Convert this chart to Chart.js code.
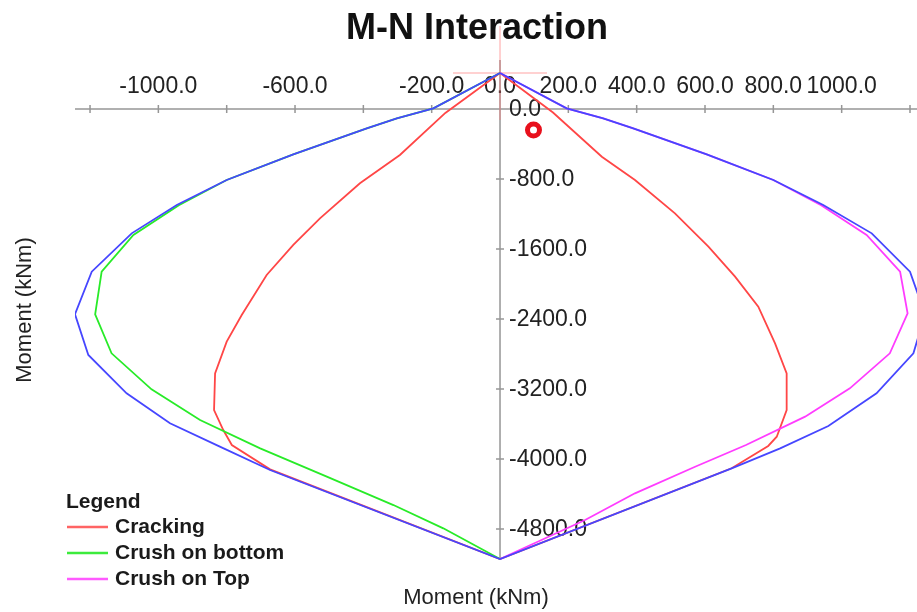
<!DOCTYPE html>
<html>
<head>
<meta charset="utf-8">
<title>M-N Interaction</title>
<script src="https://cdn.jsdelivr.net/npm/chart.js@4.4.0/dist/chart.umd.min.js"></script>
<style>
  body { margin: 0; background: #fff; }
  #myChart { display: block; }
</style>
</head>
<body>
<canvas id="myChart" width="917" height="612"></canvas>
<script>
// values, [x moment, y moment] in kNm
const envelope = [
  [0, 411], [-195, 8], [-302, -106], [-390, -221], [-605, -518], [-800, -811],
  [-946, -1097], [-1078, -1421], [-1195, -1859], [-1244, -2346], [-1205, -2811],
  [-1093, -3249], [-966, -3592], [-820, -3859], [-673, -4126], [0, -5143],
  [678, -4106], [820, -3878], [961, -3623], [1102, -3249], [1210, -2792],
  [1244, -2346], [1200, -1859], [1088, -1421], [946, -1097], [800, -811],
  [605, -518], [390, -221], [302, -106], [195, 8], [0, 411]
];

const cracking = [
  [0, 411], [-160, -45], [-293, -526], [-410, -849], [-527, -1249], [-605, -1554],
  [-683, -1897], [-756, -2354], [-800, -2659], [-834, -3021], [-837, -3440],
  [-810, -3669], [-785, -3840], [-673, -4118], [0, -5143], [678, -4106],
  [785, -3851], [810, -3745], [839, -3440], [839, -3021], [805, -2678],
  [756, -2259], [688, -1916], [610, -1574], [512, -1192], [395, -811],
  [298, -545], [155, -40], [0, 411]
];

const crushBottom = [
  [0, 411], [-195, 8], [-302, -106], [-390, -221], [-605, -518], [-800, -811],
  [-940, -1100], [-1073, -1440], [-1166, -1859], [-1185, -2346], [-1137, -2792],
  [-1020, -3204], [-878, -3554], [-702, -3878], [-507, -4202], [-312, -4526],
  [-166, -4792], [0, -5143]
];

const crushTop = [
  [0, 411], [195, 8], [302, -106], [390, -221], [605, -518], [800, -811],
  [940, -1100], [1073, -1440], [1171, -1859], [1193, -2335], [1141, -2792],
  [1024, -3192], [893, -3516], [720, -3840], [571, -4088], [395, -4392],
  [249, -4697], [0, -5143]
];

const peakMark = [[0, 411]];
const loadPoint = [[98, -240]];

const xTickValues = [-1200, -1000, -800, -600, -400, -200, 0, 200, 400, 600, 800, 1000, 1200];
const xTickLabels = ['', '-1000.0', '', '-600.0', '', '-200.0', '0.0', '200.0', '400.0', '600.0', '800.0', '1000.0', ''];
const yTickValues = [0, -800, -1600, -2400, -3200, -4000, -4800];
const yTickLabels = ['0.0', '-800.0', '-1600.0', '-2400.0', '-3200.0', '-4000.0', '-4800.0'];

const legendNames = ['Cracking', 'Crush on bottom', 'Crush on Top'];
const legendColors = ['rgb(255,100,100)', 'rgb(60,235,60)', 'rgb(255,90,255)'];

const FONT = '"Liberation Sans", Arial, sans-serif';

const toXY = (arr) => arr.map(p => ({x: p[0], y: p[1]}));

const line = (data, color, order) => ({
  data: toXY(data),
  showLine: true,
  borderColor: color,
  backgroundColor: color,
  borderWidth: 1.8,
  pointRadius: 0,
  tension: 0,
  order: order
});

// axes crossing at the origin, titles and legend
const decorations = {
  id: 'decorations',
  beforeDatasetsDraw(chart) {
    const {ctx, chartArea, scales: {x, y}} = chart;
    const x0 = x.getPixelForValue(0);
    const y0 = y.getPixelForValue(0);
    ctx.save();

    ctx.strokeStyle = 'rgb(150,150,150)';
    ctx.lineWidth = 1.5;
    ctx.beginPath();
    ctx.moveTo(chartArea.left, y0);
    ctx.lineTo(chartArea.right, y0);
    ctx.moveTo(x0, chartArea.top);
    ctx.lineTo(x0, chartArea.bottom);
    xTickValues.forEach(v => {
      const px = x.getPixelForValue(v);
      ctx.moveTo(px, y0 - 4);
      ctx.lineTo(px, y0 + 4);
    });
    yTickValues.forEach(v => {
      const py = y.getPixelForValue(v);
      ctx.moveTo(x0 - 4, py);
      ctx.lineTo(x0 + 4, py);
    });
    ctx.stroke();

    ctx.fillStyle = '#222';
    ctx.font = '23px ' + FONT;
    ctx.textAlign = 'center';
    ctx.textBaseline = 'middle';
    xTickValues.forEach((v, i) => {
      if (xTickLabels[i]) ctx.fillText(xTickLabels[i], x.getPixelForValue(v), y0 - 22);
    });
    ctx.textAlign = 'left';
    yTickValues.forEach((v, i) => {
      ctx.fillText(yTickLabels[i], x0 + 9, y.getPixelForValue(v) + 1);
    });

    // titles
    ctx.fillStyle = '#111';
    ctx.textAlign = 'center';
    ctx.font = 'bold 36px ' + FONT;
    ctx.fillText('M-N Interaction', 477, 29);
    ctx.font = '22px ' + FONT;
    ctx.fillStyle = '#222';
    ctx.fillText('Moment (kNm)', 476, 598);
    ctx.save();
    ctx.translate(25, 310);
    ctx.rotate(-Math.PI / 2);
    ctx.fillText('Moment (kNm)', 0, 0);
    ctx.restore();

    // legend
    ctx.textAlign = 'left';
    ctx.font = 'bold 21px ' + FONT;
    ctx.fillStyle = '#1a1a1a';
    ctx.fillText('Legend', 66, 502);
    legendNames.forEach((name, i) => {
      const ly = 527 + i * 26;
      ctx.strokeStyle = legendColors[i];
      ctx.lineWidth = 2.5;
      ctx.beginPath();
      ctx.moveTo(67, ly);
      ctx.lineTo(108, ly);
      ctx.stroke();
      ctx.fillText(name, 115, ly);
    });

    ctx.restore();
  }
};

const ctx = document.querySelector('#myChart');

new Chart(ctx, {
  type: 'scatter',
  data: {
    datasets: [
      line(envelope, 'rgb(70,70,255)', 1),
      line(crushTop, 'rgb(255,60,255)', 2),
      line(crushBottom, 'rgb(40,235,40)', 3),
      line(cracking, 'rgb(255,70,70)', 4),
      {
        data: toXY(peakMark),
        pointStyle: 'cross',
        pointRadius: 47,
        borderColor: 'rgba(255,120,120,0.45)',
        borderWidth: 1.5,
        clip: false,
        order: 5
      },
      {
        data: toXY(loadPoint),
        pointStyle: 'circle',
        pointRadius: 6,
        borderWidth: 5,
        borderColor: 'rgb(232,16,28)',
        backgroundColor: '#fff',
        order: 0
      }
    ]
  },
  options: {
    responsive: false,
    animation: false,
    devicePixelRatio: 1,
    layout: { autoPadding: false, padding: { left: 75, right: 0, top: 60, bottom: 52 } },
    plugins: {
      legend: { display: false },
      tooltip: { enabled: false }
    },
    scales: {
      x: { type: 'linear', min: -1244, max: 1220.5, display: false },
      y: { type: 'linear', min: -5154, max: 560, display: false }
    }
  },
  plugins: [decorations]
});
</script>
</body>
</html>
